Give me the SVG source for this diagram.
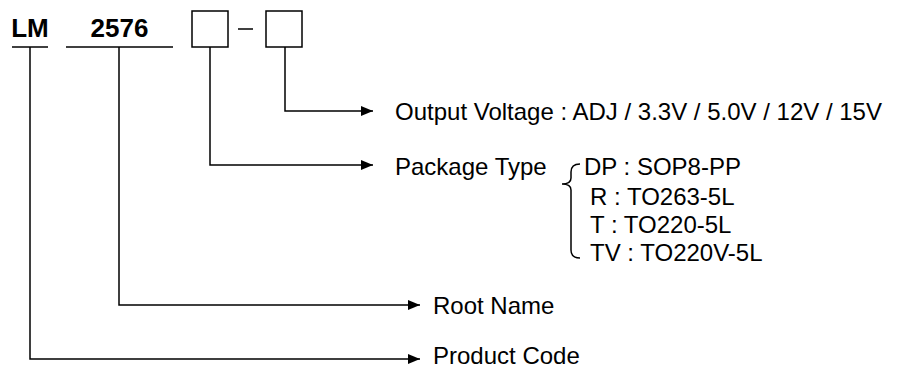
<svg xmlns="http://www.w3.org/2000/svg" width="908" height="368" viewBox="0 0 908 368">
<defs>
<marker id="arr" markerUnits="userSpaceOnUse" markerWidth="14" markerHeight="12" refX="12" refY="5" orient="auto">
<path d="M0,0 L12,5 L0,10 z" fill="#000"/>
</marker>
<style>
.t{font-family:"Liberation Sans",Arial,sans-serif;font-size:24px;fill:#000}
.b{font-family:"Liberation Sans",Arial,sans-serif;font-size:26px;font-weight:bold;fill:#000}
.ln{stroke:#000;stroke-width:1.5;fill:none}
.ar{stroke:#000;stroke-width:1.5;fill:none;marker-end:url(#arr)}
</style>
</defs>
<rect width="908" height="368" fill="#fff"/>
<g id="code-lm">
<text class="b" x="30" y="37" text-anchor="middle">LM</text>
<line class="ln" x1="12" y1="47" x2="48" y2="47"/>
</g>
<g id="code-2576">
<text class="b" x="119.5" y="37" text-anchor="middle">2576</text>
<line class="ln" x1="66" y1="47" x2="173" y2="47"/>
</g>
<g id="box-package">
<rect class="ln" x="192" y="11" width="36" height="36"/>
</g>
<g id="dash">
<line class="ln" x1="238" y1="29" x2="253" y2="29"/>
</g>
<g id="box-voltage">
<rect class="ln" x="266" y="11" width="36" height="36"/>
</g>
<g id="connectors">
<polyline class="ar" points="285,47 285,111 373,111"/>
<polyline class="ar" points="210,47 210,165 373,165"/>
<polyline class="ar" points="119,47 119,305 420,305"/>
<polyline class="ar" points="30,47 30,359 420,359"/>
</g>
<g id="output-voltage">
<text class="t" x="395" y="120">Output Voltage : ADJ / 3.3V / 5.0V / 12V / 15V</text>
</g>
<g id="package-type">
<text class="t" x="395" y="175">Package Type</text>
<path class="ln" stroke-width="1.3" d="M580,164 Q571,164 571,172 L571,178 Q571,184 562,184 Q571,184 571,190 L571,250 Q571,258 580,258"/>
<text class="t" x="584" y="175">DP : SOP8-PP</text>
<text class="t" x="590" y="205">R : TO263-5L</text>
<text class="t" x="590" y="233">T : TO220-5L</text>
<text class="t" x="590" y="261">TV : TO220V-5L</text>
</g>
<g id="root-name">
<text class="t" x="433" y="314">Root Name</text>
</g>
<g id="product-code">
<text class="t" x="433" y="364">Product Code</text>
</g>
</svg>
